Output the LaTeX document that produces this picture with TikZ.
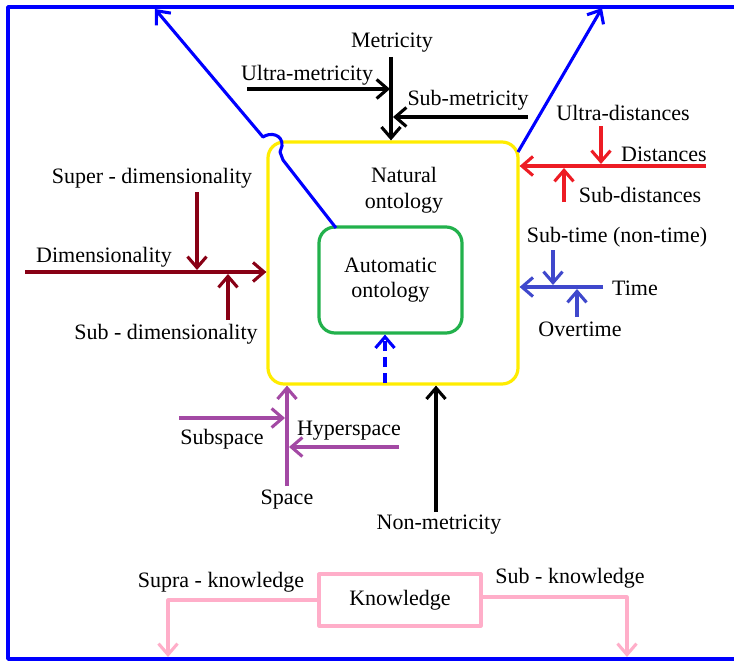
\documentclass[tikz,border=0pt]{standalone}
\usepackage{fontspec}
\setmainfont{Liberation Serif}
\usetikzlibrary{arrows.meta}
\definecolor{pblue}{RGB}{0,0,255}
\definecolor{pyellow}{RGB}{255,236,0}
\definecolor{pgreen}{RGB}{34,177,76}
\definecolor{pred}{RGB}{237,28,36}
\definecolor{pdred}{RGB}{136,0,21}
\definecolor{ppurple}{RGB}{163,73,164}
\definecolor{pindigo}{RGB}{63,72,204}
\definecolor{ppink}{RGB}{255,174,201}
\begin{document}
\begin{tikzpicture}[x=1pt,y=-1pt,line width=3.1pt,line join=round,
  lbl/.style={font=\fontsize{22}{25.5}\selectfont,inner sep=0pt},
  txt/.style={lbl,yshift=-2pt},
  tip/.style={-{Straight Barb[length=11pt,width=19pt]}},
  boxstyle/.style={line width=3.2pt,rounded corners=16pt}]
\useasboundingbox (0,0) rectangle (734,661);
% frame
\draw[pblue,line width=3.6pt] (734,7) -- (8,7) -- (8,659) -- (734,659);
% main boxes
\node[boxstyle,draw=pyellow,minimum width=250pt,minimum height=242pt] (nat) at (393,263) {};
\node[txt,align=center] (natt) at (404,188) {Natural\\ontology};
\node[boxstyle,draw=pgreen,minimum width=143pt,minimum height=106pt,align=center,lbl] (auto) at (390.5,280) {Automatic\\ontology};
% blue outputs
\coordinate (bl0) at (336,228);
\coordinate (bl1) at (155,9);
\coordinate (br0) at (518,152);
\coordinate (br1) at (602,8);
\draw[pblue,tip] (bl0) -- (283,160) -- (280,152) -- (282,146) .. controls (283,134) and (270,132) .. (263,137) -- (bl1);
\draw[pblue,tip] (br0) -- (br1);
\draw[pblue,tip,dash pattern=on 10pt off 6pt] (385,383) -- (auto.south -| 385,0);
% metricity
\node[txt] (met) at (392,41) {Metricity};
\node[txt] (umet) at (307,73) {Ultra-metricity};
\node[txt] (smet) at (468,98) {Sub-metricity};
\coordinate (m0) at (391,57);
\coordinate (um0) at (247,89);
\coordinate (sm0) at (528,117);
\draw[black,tip] (m0) -- (m0 |- nat.north);
\draw[black,tip] (um0) -- (390,89);
\draw[black,tip] (sm0) -- (393,117);
% distances
\node[txt] (udis) at (623,111) {Ultra-distances};
\node[txt] (dis) at (664,152) {Distances};
\node[txt] (sdis) at (640,193) {Sub-distances};
\coordinate (d0) at (706,166);
\coordinate (ud0) at (601,126);
\coordinate (sd0) at (564,202);
\draw[pred,tip] (d0) -- (d0 -| nat.east);
\draw[pred,tip] (ud0) -- (601,164);
\draw[pred,tip] (sd0) -- (564,168);
% dimensionality
\node[txt] (sdim) at (152,176) {Super - dimensionality};
\node[txt] (dim) at (104,255) {Dimensionality};
\node[txt] (bdim) at (166,332) {Sub - dimensionality};
\coordinate (di0) at (25,272);
\coordinate (sdi0) at (197,192);
\coordinate (bdi0) at (228,320);
\draw[pdred,tip] (di0) -- (di0 -| nat.west);
\draw[pdred,tip] (sdi0) -- (197,270);
\draw[pdred,tip] (bdi0) -- (228,274);
% time
\node[txt] (stime) at (617,235) {Sub-time (non-time)};
\node[txt] (time) at (635,286) {Time};
\node[txt] (otime) at (580,327) {Overtime};
\coordinate (t0) at (603,287);
\coordinate (st0) at (553,250);
\coordinate (ot0) at (577,317);
\draw[pindigo,tip] (t0) -- (t0 -| nat.east);
\draw[pindigo,tip] (st0) -- (553,285);
\draw[pindigo,tip] (ot0) -- (577,289);
% space
\node[txt] (subsp) at (222,437) {Subspace};
\node[txt] (hypsp) at (349,429) {Hyperspace};
\node[txt] (space) at (287,498) {Space};
\coordinate (s0) at (287,486);
\coordinate (ss0) at (179,418);
\coordinate (hs0) at (399,447);
\draw[ppurple,tip] (s0) -- (s0 |- nat.south);
\draw[ppurple,tip] (ss0) -- (285,418);
\draw[ppurple,tip] (hs0) -- (289,447);
% non-metricity
\node[txt] (nmet) at (439,523) {Non-metricity};
\coordinate (nm0) at (436,512);
\draw[black,tip] (nm0) -- (nm0 |- nat.south);
% knowledge
\node[lbl,draw=ppink,line width=3.2pt,minimum width=162pt,minimum height=52pt] (know) at (400,600) {Knowledge};
\node[txt] (supk) at (221,580) {Supra - knowledge};
\node[txt] (subk) at (570,576) {Sub - knowledge};
\coordinate (kl) at (168,657);
\coordinate (kr) at (627,657);
\draw[ppink,tip] (know.west) -- (kl |- know.west) -- (kl);
\draw[ppink,tip] (know.east |- 0,597) -- (kr |- 0,597) -- (kr);
\end{tikzpicture}
\end{document}
